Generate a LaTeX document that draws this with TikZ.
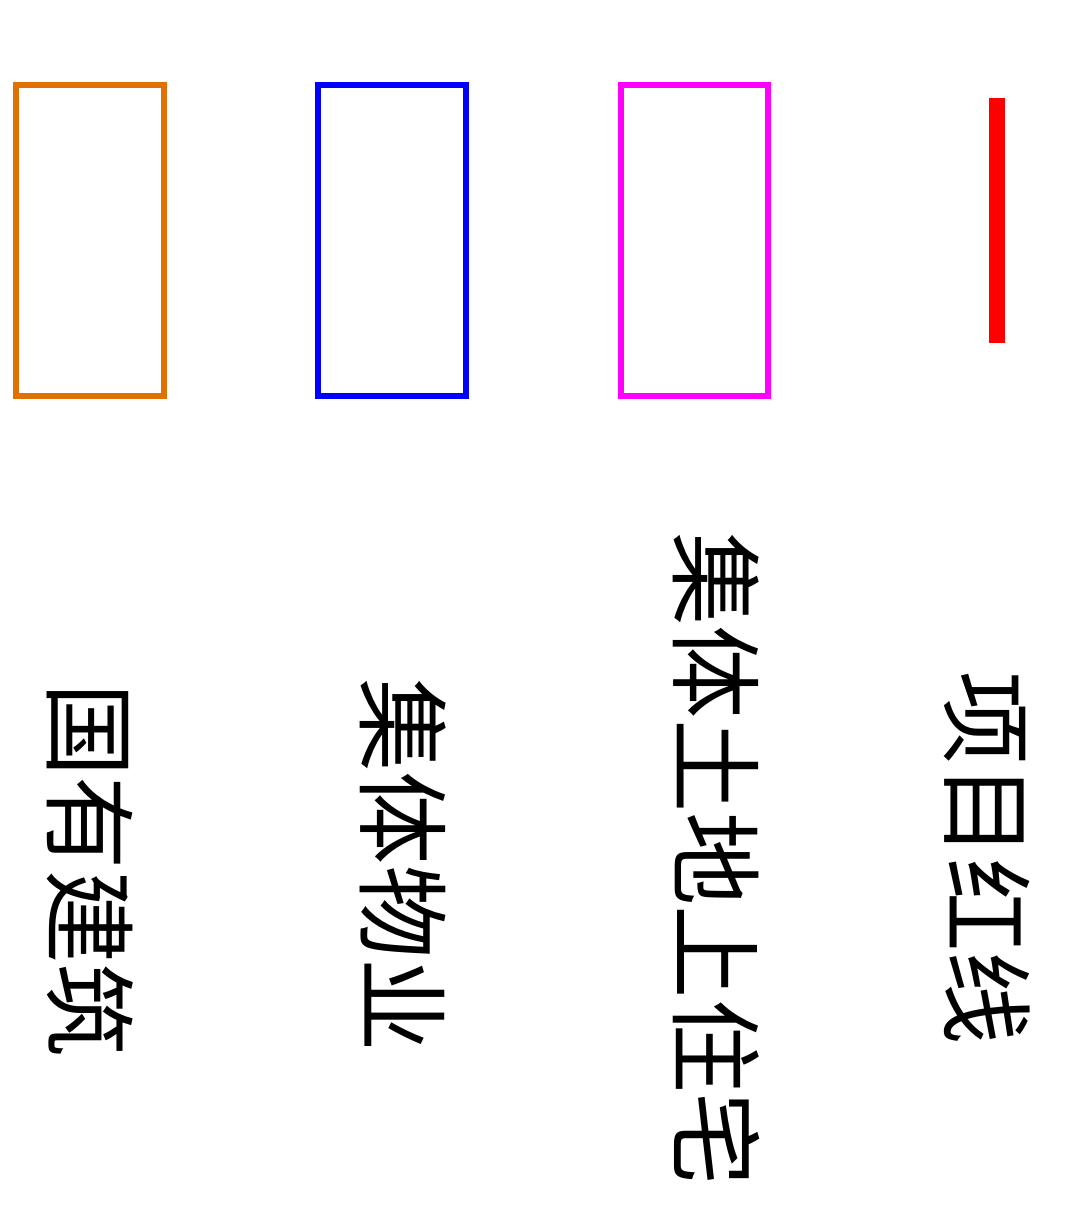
\documentclass[tikz,border=0pt]{standalone}
\usepackage{fontspec}
\newfontfamily\cjk{Noto Sans CJK SC}
\definecolor{legorange}{RGB}{224,112,0}
\definecolor{legmagenta}{RGB}{255,0,255}
\definecolor{legblue}{RGB}{0,0,255}
\definecolor{legred}{RGB}{255,0,0}
\begin{document}
\begin{tikzpicture}[x=0.75pt,y=-0.75pt,
  box/.style={line width=4.2pt},
  lab/.style={font=\cjk\fontsize{70}{70}\selectfont, rotate=-90, inner sep=0pt, anchor=center}]
\useasboundingbox (0,0) rectangle (1064,1206);
% swatches
\fill[legred] (989,98) rectangle (1005,343);
\draw[box, legmagenta] (621,85) rectangle (768,396);
\draw[box, legblue] (318,85) rectangle (466,396);
\draw[box, legorange] (16,85) rectangle (164,396);
% labels
\node[lab] (t1) at (987,858) {项目红线};
\node[lab] (t2) at (716,859) {集体土地上住宅};
\node[lab] (t3) at (403,865) {集体物业};
\node[lab] (t4) at (90,870) {国有建筑};
\end{tikzpicture}
\end{document}
